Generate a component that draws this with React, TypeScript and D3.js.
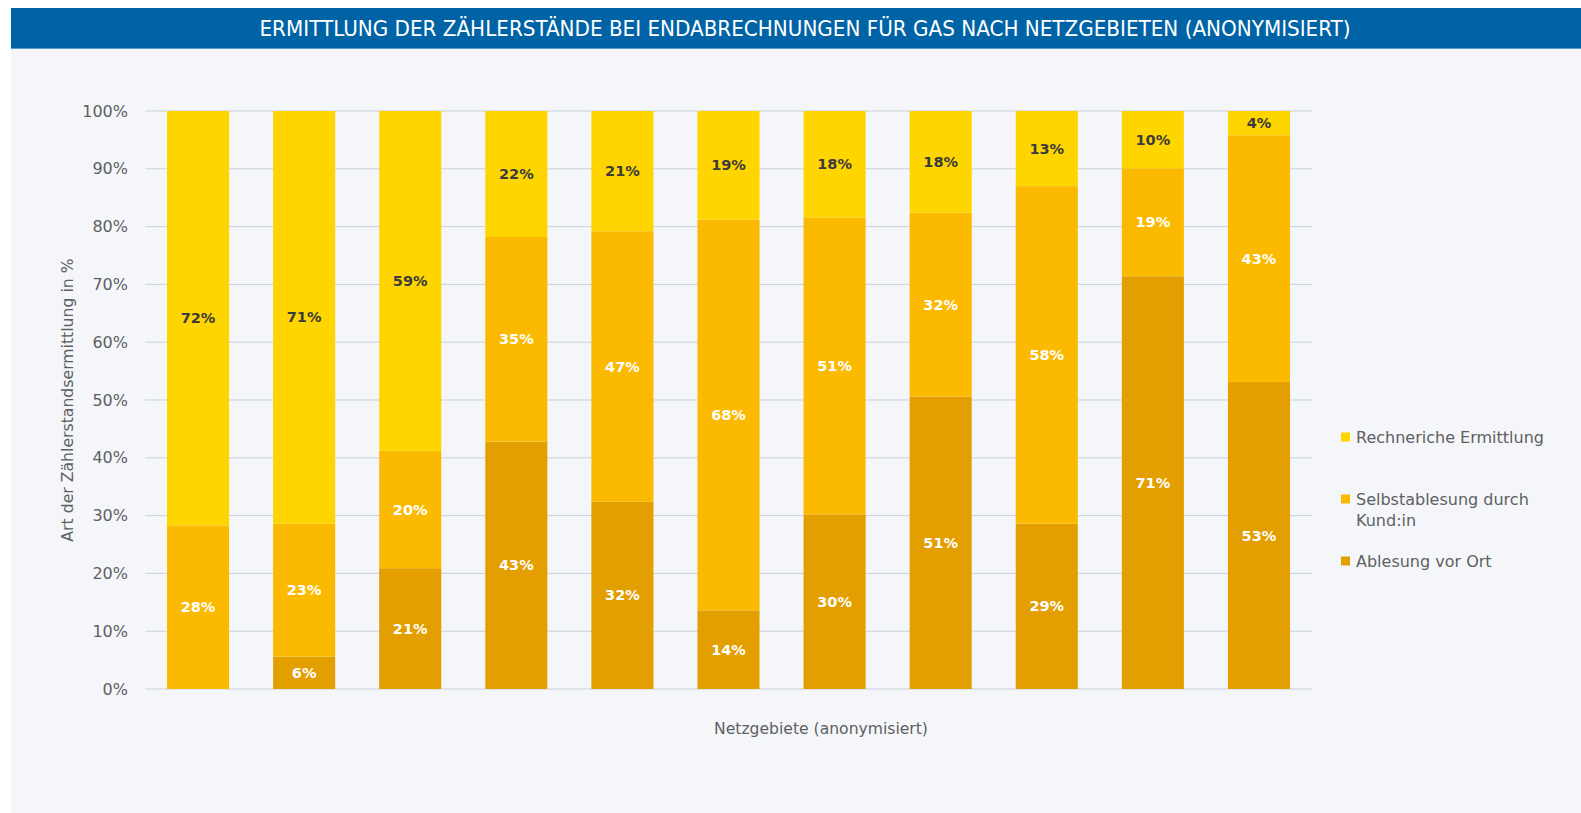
import React, { useEffect, useRef } from "react";
import * as d3 from "d3";

// data (share in %, bottom to top)
const regions = ["1", "2", "3", "4", "5", "6", "7", "8", "9", "10", "11"];
const ablesung = [0, 5.6, 20.9, 42.8, 32.4, 13.6, 30.2, 50.6, 28.6, 71.4, 53.1];
const selbst = [28.3, 23.0, 20.3, 35.4, 46.8, 67.6, 51.4, 31.8, 58.4, 18.7, 42.7];
const rechnerisch = [71.7, 71.4, 58.8, 21.8, 20.8, 18.8, 18.4, 17.6, 13.0, 9.9, 4.2];
const seriesNames = ["Ablesung vor Ort", "Selbstablesung durch Kund:in", "Rechneriche Ermittlung"];
const yTicks = [0, 10, 20, 30, 40, 50, 60, 70, 80, 90, 100];

const colors = ["#E39E00", "#FBBA00", "#FFD500"];
const labelColors = ["#ffffff", "#ffffff", "#3b3b3b"];

const W = 1581;
const H = 813;

const App: React.FC = () => {
  const svgRef = useRef<SVGSVGElement>(null);

  useEffect(() => {
    if (!svgRef.current) return;
    const svg = d3.select(svgRef.current);
    svg.selectAll("*").remove();

    const font = "'DejaVu Sans', Verdana, sans-serif";

    // background + title bar
    svg.append("rect").attr("x", 11).attr("y", 48).attr("width", W - 11).attr("height", H - 48).attr("fill", "#F4F6FA");
    svg.append("rect").attr("x", 11).attr("y", 8).attr("width", W - 11).attr("height", 40).attr("fill", "#0063A6");
    svg.append("rect").attr("x", 11).attr("y", 48).attr("width", W - 11).attr("height", 1).attr("fill", "#5A9BCB");
    svg
      .append("text")
      .attr("x", 805)
      .attr("y", 36)
      .attr("text-anchor", "middle")
      .attr("fill", "#ffffff")
      .attr("font-family", "'Liberation Sans Narrow', 'DejaVu Sans Condensed', Roboto, sans-serif")
      .attr("font-size", 21)
      .attr("font-weight", 500)
      .attr("textLength", 1091)
      .attr("lengthAdjust", "spacingAndGlyphs")
      .text("ERMITTLUNG DER ZÄHLERSTÄNDE BEI ENDABRECHNUNGEN FÜR GAS NACH NETZGEBIETEN (ANONYMISIERT)");

    const margin = { left: 145, right: W - 1312, top: 111, bottom: H - 689 };

    const x = d3
      .scaleBand<string>()
      .domain(regions)
      .range([margin.left, W - margin.right])
      .paddingInner(0.415)
      .paddingOuter(0.2075);

    const y = d3.scaleLinear().domain([0, 100]).range([H - margin.bottom, margin.top]);

    // gridlines
    svg
      .append("g")
      .selectAll("line")
      .data(yTicks)
      .join("line")
      .attr("x1", margin.left)
      .attr("x2", W - margin.right)
      .attr("y1", (d) => y(d))
      .attr("y2", (d) => y(d))
      .attr("stroke", "#C9D0DA")
      .attr("stroke-width", 1);

    // y tick labels
    svg
      .append("g")
      .selectAll("text")
      .data(yTicks)
      .join("text")
      .attr("x", 128)
      .attr("y", (d) => y(d))
      .attr("dy", "0.35em")
      .attr("text-anchor", "end")
      .attr("fill", "#5f5f5f")
      .attr("font-family", font)
      .attr("font-size", 16)
      .text((d) => `${d}%`);

    // stacked bars
    const table = regions.map((r, i) => ({
      region: r,
      a: ablesung[i],
      s: selbst[i],
      r: rechnerisch[i],
    }));
    const stack = d3.stack<(typeof table)[number]>().keys(["a", "s", "r"]);
    const layers = stack(table);

    layers.forEach((layer, li) => {
      const g = svg.append("g");
      g.selectAll("rect")
        .data(layer)
        .join("rect")
        .attr("x", (d) => x(d.data.region)!)
        .attr("width", x.bandwidth())
        .attr("y", (d) => y(d[1]))
        .attr("height", (d) => y(d[0]) - y(d[1]))
        .attr("fill", colors[li]);

      g.selectAll("text")
        .data(layer.filter((d) => d[1] - d[0] > 0.5))
        .join("text")
        .attr("x", (d) => x(d.data.region)! + x.bandwidth() / 2)
        .attr("y", (d) => y((d[0] + d[1]) / 2))
        .attr("dy", "0.35em")
        .attr("text-anchor", "middle")
        .attr("fill", labelColors[li])
        .attr("font-family", font)
        .attr("font-weight", "bold")
        .attr("font-size", 14.5)
        .text((d) => `${Math.round(d[1] - d[0])}%`);
    });

    // axis titles
    svg
      .append("text")
      .attr("transform", `translate(67,400) rotate(-90)`)
      .attr("text-anchor", "middle")
      .attr("dy", "0.35em")
      .attr("fill", "#5f5f5f")
      .attr("font-family", font)
      .attr("font-size", 15.7)
      .text("Art der Zählerstandsermittlung in %");

    svg
      .append("text")
      .attr("x", 821)
      .attr("y", 729)
      .attr("text-anchor", "middle")
      .attr("dy", "0.35em")
      .attr("fill", "#5f5f5f")
      .attr("font-family", font)
      .attr("font-size", 15.6)
      .text("Netzgebiete (anonymisiert)");

    // legend
    const legendItems = [
      { name: seriesNames[2], color: colors[2], lines: ["Rechneriche Ermittlung"], y: 437 },
      { name: seriesNames[1], color: colors[1], lines: ["Selbstablesung durch", "Kund:in"], y: 499 },
      { name: seriesNames[0], color: colors[0], lines: ["Ablesung vor Ort"], y: 561 },
    ];
    const lg = svg.append("g");
    legendItems.forEach((it) => {
      lg.append("rect")
        .attr("x", 1341)
        .attr("y", it.y - 4.5)
        .attr("width", 9)
        .attr("height", 9)
        .attr("fill", it.color);
      it.lines.forEach((ln, k) => {
        lg.append("text")
          .attr("x", 1356)
          .attr("y", it.y + k * 21)
          .attr("dy", "0.35em")
          .attr("fill", "#5f5f5f")
          .attr("font-family", font)
          .attr("font-size", 16)
          .text(ln);
      });
    });
  }, []);

  return (
    <div style={{ position: "absolute", left: 0, top: 0, width: W, height: H, background: "#ffffff" }}>
      <svg ref={svgRef} width={W} height={H} style={{ display: "block" }}></svg>
    </div>
  );
};

export default App;
